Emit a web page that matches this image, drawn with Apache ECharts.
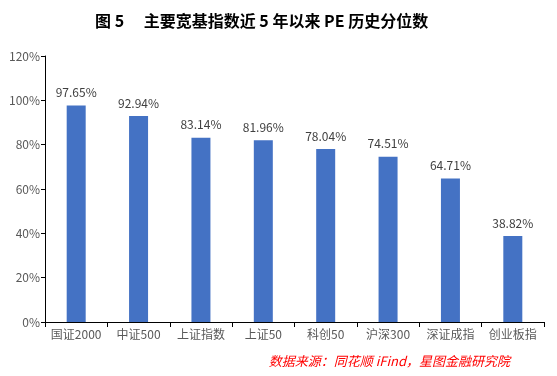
<!DOCTYPE html>
<html>
<head>
<meta charset="utf-8">
<script src="https://cdn.jsdelivr.net/npm/echarts@6/dist/echarts.min.js"></script>
<style>
  html, body { margin: 0; padding: 0; background: #fff; }
  #chart-container { width: 557px; height: 376px; }
</style>
</head>
<body>
<div id="chart-container"></div>
<script>
// 指数名称
const categories = ["国证2000", "中证500", "上证指数", "上证50", "科创50", "沪深300", "深证成指", "创业板指"];
// PE 历史分位数（%）
const percentiles = [97.65, 92.94, 83.14, 81.96, 78.04, 74.51, 64.71, 38.82];

const chart = echarts.init(document.getElementById("chart-container"));

const option = {
  animation: false,
  title: {
    text: "图 5　 主要宽基指数近 5 年以来 PE 历史分位数",
    left: 90,
    top: 8,
    textStyle: {
      fontFamily: "Noto Sans CJK SC",
      fontWeight: "bold",
      fontSize: 16,
      color: "#000",
    },
  },
  graphic: [
    {
      type: "text",
      right: 47,
      top: 355,
      style: {
        text: "数据来源：同花顺 iFind，星图金融研究院",
        fill: "#ff0000",
        font: "italic 13px 'Noto Sans CJK SC'",
      },
    },
  ],
  grid: {
    left: 45,
    right: 13,
    top: 56,
    bottom: 54,
  },
  xAxis: {
    type: "category",
    data: categories,
    axisLine: { lineStyle: { color: "#000", width: 1 } },
    axisTick: { show: true, length: 5, lineStyle: { color: "#000" } },
    axisLabel: {
      interval: 0,
      color: "#595959",
      fontSize: 12,
      fontFamily: "Noto Sans CJK SC",
      margin: 6,
    },
  },
  yAxis: {
    type: "value",
    min: 0,
    max: 120,
    interval: 20,
    axisLine: { show: true, lineStyle: { color: "#000", width: 1 } },
    axisTick: { show: true, length: 4, lineStyle: { color: "#000" } },
    splitLine: { show: false },
    axisLabel: {
      color: "#595959",
      fontSize: 12,
      fontFamily: "Noto Sans CJK SC",
      margin: 5,
      formatter: "{value}%",
    },
  },
  series: [
    {
      type: "bar",
      data: percentiles,
      barWidth: 19,
      itemStyle: { color: "#4472C4" },
      label: {
        show: true,
        position: "top",
        distance: 7,
        color: "#404040",
        fontSize: 12,
        fontFamily: "Noto Sans CJK SC",
        formatter: (p) => p.value.toFixed(2) + "%",
      },
    },
  ],
};

chart.setOption(option);
</script>
</body>
</html>
